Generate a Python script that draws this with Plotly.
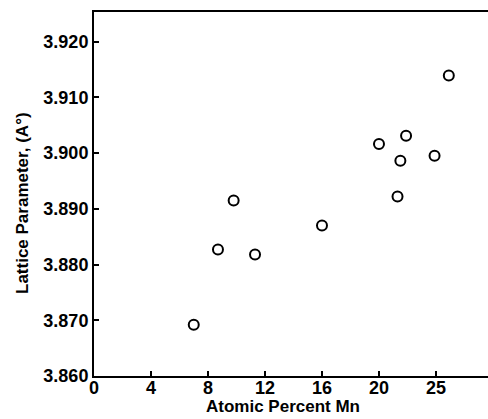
import plotly.graph_objects as go

atomic_pct_mn = [7.0, 8.7, 9.8, 11.3, 16.0, 20.0, 21.3, 21.5, 21.9, 23.9, 24.9]
lattice_param = [3.8692, 3.8827, 3.8915, 3.8818, 3.8870, 3.9016, 3.8922, 3.8986, 3.9031, 3.8995, 3.9139]

x_tickvals = [0, 4, 8, 12, 16, 20, 24]
x_ticktext = ["<b>0</b>", "<b>4</b>", "<b>8</b>", "<b>12</b>", "<b>16</b>", "<b>20</b>", "<b>25</b>"]
y_tickvals = [3.860, 3.870, 3.880, 3.890, 3.900, 3.910, 3.920]
y_ticktext = ["<b>3.860</b>", "<b>3.870</b>", "<b>3.880</b>", "<b>3.890</b>", "<b>3.900</b>", "<b>3.910</b>", "<b>3.920</b>"]

FONT = "Liberation Sans"

fig = go.Figure()
fig.add_trace(go.Scatter(
    x=atomic_pct_mn, y=lattice_param, mode="markers",
    marker=dict(symbol="circle-open", size=10, color="black", line=dict(width=2, color="black")),
    showlegend=False,
))

fig.update_layout(
    width=488, height=419,
    margin=dict(l=94, r=0, t=12, b=43),
    paper_bgcolor="white", plot_bgcolor="white",
    font=dict(family=FONT, size=18, color="black"),
    xaxis=dict(
        range=[0, 27.65], tickmode="array", tickvals=x_tickvals, ticktext=x_ticktext,
        showline=True, linecolor="black", linewidth=2, mirror=True,
        ticks="inside", ticklen=5, tickwidth=1.5, tickcolor="black",
        showgrid=False, zeroline=False, ticklabelstandoff=-6,
        tickfont=dict(family=FONT, size=18),
    ),
    yaxis=dict(
        range=[3.860, 3.9253], tickmode="array", tickvals=y_tickvals, ticktext=y_ticktext,
        showline=True, linecolor="black", linewidth=2,
        ticks="inside", ticklen=5, tickwidth=1.5, tickcolor="black",
        showgrid=False, zeroline=False,
        tickfont=dict(family=FONT, size=18),
    ),
    annotations=[
        dict(text="<b>Atomic Percent Mn</b>", xref="paper", yref="paper",
             x=(283 - 94) / 394, y=-(407 - 376) / 364, xanchor="center", yanchor="middle",
             showarrow=False, font=dict(family=FONT, size=17)),
        dict(text="<b>Lattice Parameter, (A°)</b>", xref="paper", yref="paper",
             x=-(94 - 22) / 394, y=(376 - 203) / 364, xanchor="center", yanchor="middle",
             textangle=-90, showarrow=False, font=dict(family=FONT, size=17)),
    ],
)

fig.write_html("out.html")
